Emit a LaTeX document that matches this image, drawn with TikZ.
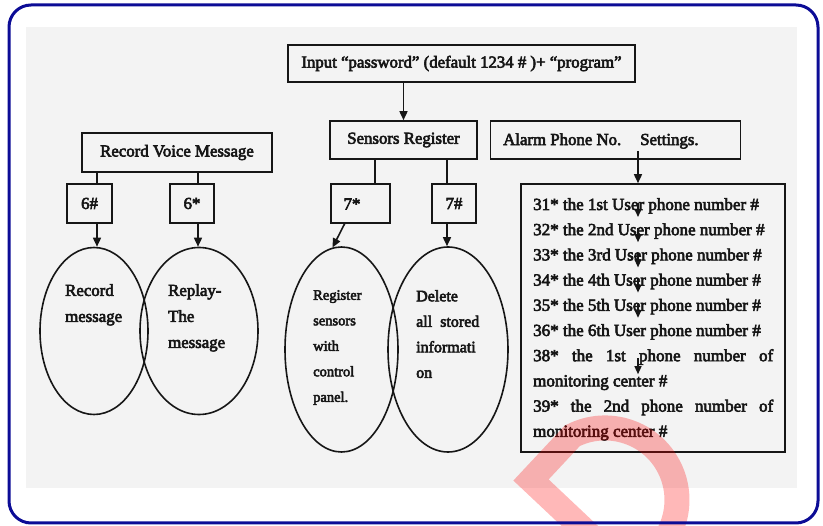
\documentclass[tikz,border=0pt]{standalone}
\usepackage{fontspec}
\setmainfont{Liberation Serif}[FakeBold=3.5]
\usetikzlibrary{shapes.geometric,arrows.meta}
\definecolor{frameblue}{RGB}{12,12,150}
\definecolor{scan}{RGB}{243,243,243}
\definecolor{ink}{RGB}{22,22,22}
\begin{document}
\begin{tikzpicture}[x=1pt,y=-1pt,
  box/.style={draw=ink,line width=1.6pt,rectangle,inner sep=0pt,text=ink,font=\fontsize{16.8}{26}\selectfont},
  oval/.style={draw=ink,line width=1.6pt,ellipse,inner sep=0pt},
  link/.style={draw=ink,line width=1.6pt},
  arr/.style={link,-{Triangle[length=9pt,width=8pt]}},
  sarr/.style={link,line width=1.3pt,-{Triangle[length=8pt,width=7pt]}},
  lbl/.style={text=ink,inner sep=0pt,font=\fontsize{16.8}{26}\selectfont},
]
\useasboundingbox (0,0) rectangle (823,526);
\fill[scan] (26,27) rectangle (797,488);

% boxes
\node[box,minimum width=347pt,minimum height=37pt] (inp) at (461.5,63.5) {Input “password” (default 1234 \# )+ “program”};
\node[box,minimum width=147pt,minimum height=38pt] (sens) at (403.5,140) {Sensors Register};
\node[box,minimum width=190pt,minimum height=39pt] (rvm) at (177,152.5) {Record Voice Message};
\node[box,minimum width=250pt,minimum height=38pt] (alarm) at (615.5,140) {};
\node[lbl,anchor=west] (alarmtxt) at (503,141) {Alarm Phone No.\hspace{19pt}Settings.};

\node[box,minimum width=45pt,minimum height=39pt] (b6h) at (89.5,203.5) {6\#};
\node[box,minimum width=44pt,minimum height=39pt] (b6s) at (192,203.5) {6*};
\node[box,minimum width=59pt,minimum height=39pt] (b7s) at (360.5,203.5) {};
\node[lbl] (t7s) at (352,204) {7*};
\node[box,minimum width=44pt,minimum height=39pt] (b7h) at (454,203.5) {7\#};

\node[box,minimum width=264pt,minimum height=268pt] (plist) at (653,318) {};
\node[lbl,anchor=north west,align=left,font=\fontsize{17}{25.2}\selectfont] (lst) at (533,198) {%
31* the 1st User phone number \#\\
32* the 2nd User phone number \#\\
33* the 3rd User phone number \#\\
34* the 4th User phone number \#\\
35* the 5th User phone number \#\\
36* the 6th User phone number \#\\
\makebox[240pt][s]{38* the 1st phone number of}\\
monitoring center \#\\
\makebox[240pt][s]{39* the 2nd phone number of}\\
monitoring center \#};

% ellipses
\node[oval,minimum width=108pt,minimum height=167pt] (e1) at (94,331) {};
\node[oval,minimum width=118pt,minimum height=167pt] (e2) at (199,331) {};
\node[oval,minimum width=113pt,minimum height=205pt] (e3) at (341.5,349.5) {};
\node[oval,minimum width=120pt,minimum height=205pt] (e4) at (448,349.5) {};

\node[lbl,anchor=north west,align=left] (t1) at (65,284) {Record\\message};
\node[lbl,anchor=north west,align=left] (t2) at (168,284) {Replay-\\The\\message};
\node[lbl,anchor=north west,align=left,font=\fontsize{14.5}{25.5}\selectfont] (t3) at (313,290) {Register\\sensors\\with\\control\\panel.};
\node[lbl,anchor=north west,align=left,font=\fontsize{16}{25.5}\selectfont] (t4) at (416,290) {Delete\\all \ stored\\informati\\on};

% connectors
\draw[arr] (sens.north |- inp.south) -- (sens.north);

\coordinate (k6h) at (97,184);
\coordinate (k6s) at (198,184);
\coordinate (k7s) at (375,184);
\coordinate (k7h) at (447,184);
\coordinate (c7a) at (345,223);
\draw[link] (k6h |- rvm.south) -- (k6h |- b6h.north);
\draw[link] (k6s |- rvm.south) -- (k6s |- b6s.north);
\draw[arr] (k6h |- b6h.south) -- (k6h |- e1.north);
\draw[arr] (k6s |- b6s.south) -- (k6s |- e2.north);
\draw[link] (k7s |- sens.south) -- (k7s |- b7s.north);
\draw[link] (k7h |- sens.south) -- (k7h |- b7h.north);
\draw[arr] (c7a) -- (e3.95);
\draw[arr] (k7h |- b7h.south) -- (k7h |- e4.north);

\coordinate (alarmsrc) at (638,151);
\draw[arr] (alarmsrc) -- (alarmsrc |- plist.north);

\foreach \i/\ya/\yb in {1/203/217, 2/228.2/242.2, 3/253.4/267.4, 4/278.6/292.6, 5/303.8/317.8, 7/358.2/374.2} {
  \coordinate (ua\i) at (638,\ya);
  \coordinate (ub\i) at (638,\yb);
  \draw[sarr] (ua\i) -- (ub\i);
}

% watermark
\begin{scope}
\clip (0,0) rectangle (823,526);
\draw[red,opacity=0.28,line width=25pt,line join=miter] (600,545) -- (531,480) -- (572.3,435.8) arc[start angle=243,end angle=425,radius=72];
\end{scope}

% frame
\draw[frameblue,line width=3pt,rounded corners=22pt] (9,5) rectangle (818,523);
\end{tikzpicture}
\end{document}
